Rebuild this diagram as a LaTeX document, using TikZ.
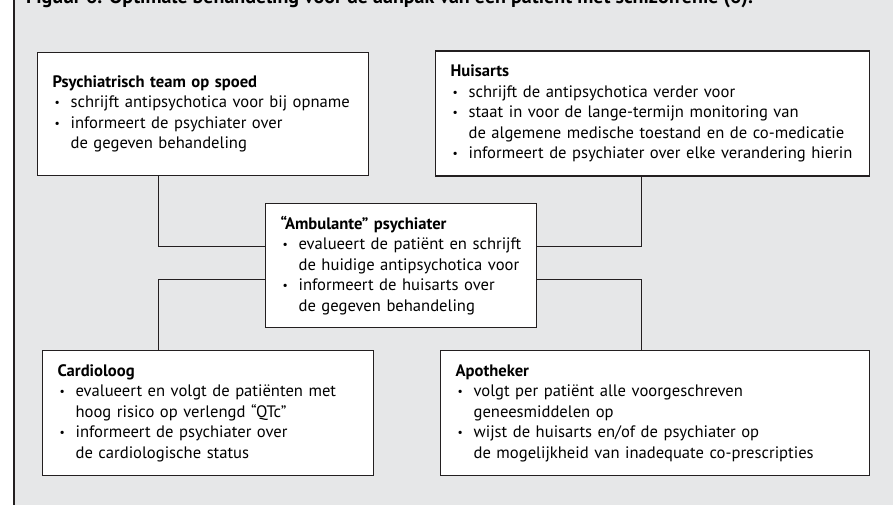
\documentclass[tikz,border=0pt]{standalone}
\usepackage{fontspec}
\setmainfont{PT Sans}
\usetikzlibrary{positioning}
\definecolor{panelgray}{HTML}{E6E7E8}
\definecolor{inkline}{HTML}{231F20}
\newcommand{\bulletdot}{\raisebox{0.06em}{\scalebox{0.7}{\textbullet}}}
\newcommand{\boxhead}[1]{\noindent\mbox{\bfseries #1}\par}
\newcommand{\bitem}[1]{\noindent\hangindent=18pt\hangafter=1\makebox[18pt][l]{\hspace{2pt}\bulletdot}#1\par}
\tikzset{
  role/.style={draw=inkline,line width=1.2pt,fill=white,anchor=north west,
    inner xsep=15pt,inner ysep=0pt,align=left,
    font=\fontsize{16.6}{20.5}\selectfont},
  link/.style={draw=inkline,line width=1pt}
}

\begin{document}
\begin{tikzpicture}[x=1pt,y=-1pt]
    \clip (0,0) rectangle (893,505);
    % — Grey panel with its left rule
    \fill[panelgray] (14,-10) rectangle (900,515);
    \draw[inkline,line width=1.2pt] (14,-10) -- (14,515);

    % — Caption, cut off by the top edge
    \node[anchor=base west,inner sep=0pt,font=\fontsize{20}{24}\selectfont\bfseries] (caption) at (26,4)
      {Figuur 6. Optimale behandeling voor de aanpak van een patiënt met schizofrenie (6).};

    % — Upper row
    \node[role,text width=301pt,minimum height=123pt] (spoed) at (37,52) {%
      \boxhead{Psychiatrisch team op spoed}
      \bitem{\mbox{schrijft antipsychotica voor bij opname}}
      \bitem{\mbox{informeert de psychiater over}\newline\mbox{de gegeven behandeling}}};
    \node[role,text width=404pt,minimum height=125pt] (huisarts) at (435,50.5) {%
      \boxhead{Huisarts}
      \bitem{\mbox{schrijft de antipsychotica verder voor}}
      \bitem{\mbox{staat in voor de lange-termijn monitoring van}\newline\mbox{de algemene medische toestand en de co-medicatie}}
      \bitem{\mbox{informeert de psychiater over elke verandering hierin}}};

    % — Central psychiatrist
    \node[role,text width=241pt,minimum height=124.5pt] (psych) at (265,202.5) {%
      \boxhead{“Ambulante” psychiater}
      \bitem{\mbox{evalueert de patiënt en schrijft}\newline\mbox{de huidige antipsychotica voor}}
      \bitem{\mbox{informeert de huisarts over}\newline\mbox{de gegeven behandeling}}};

    % — Lower row
    \node[role,text width=301pt,minimum height=125pt] (cardio) at (42,350) {%
      \boxhead{Cardioloog}
      \bitem{\mbox{evalueert en volgt de patiënten met}\newline\mbox{hoog risico op verlengd “QTc”}}
      \bitem{\mbox{informeert de psychiater over}\newline\mbox{de cardiologische status}}};
    \node[role,text width=399pt,minimum height=125pt] (apotheek) at (440,350) {%
      \boxhead{Apotheker}
      \bitem{\mbox{volgt per patiënt alle voorgeschreven}\newline\mbox{geneesmiddelen op}}
      \bitem{\mbox{wijst de huisarts en/of de psychiater op}\newline\mbox{de mogelijkheid van inadequate co-prescripties}}};

    % — Elbow links to the central box
    \draw[link] ([xshift=121pt]spoed.south west) |- ([yshift=-43.5pt]psych.north west);
    \draw[link] ([xshift=206pt]huisarts.south west) |- ([yshift=-43.5pt]psych.north east);
    \draw[link] ([yshift=-76.5pt]psych.north west) -| ([xshift=116pt]cardio.north west);
    \draw[link] ([yshift=-76.5pt]psych.north east) -| ([xshift=201pt]apotheek.north west);
\end{tikzpicture}
\end{document}
